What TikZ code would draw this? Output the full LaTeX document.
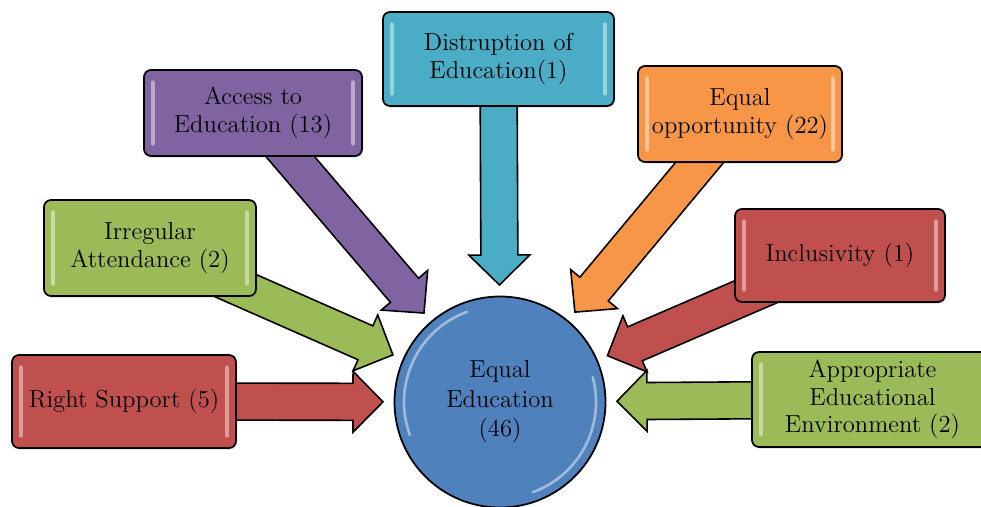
\documentclass[tikz,border=0pt]{standalone}
\usepackage{tikz}
\usetikzlibrary{calc,backgrounds,shadows}

\definecolor{boxaqua}{HTML}{4BACC6}
\definecolor{boxpurple}{HTML}{8064A2}
\definecolor{boxorange}{HTML}{F79646}
\definecolor{boxgreen}{HTML}{9BBB59}
\definecolor{boxred}{HTML}{C0504D}
\definecolor{ballblue}{HTML}{4F81BD}

\tikzset{
	box/.style={draw=black, line width=1pt, rounded corners=4pt, align=center, inner sep=0pt,
		font=\fontsize{14}{15.6}\selectfont,
		drop shadow={opacity=0.2, shadow xshift=0.8pt, shadow yshift=-1pt},
		path picture={
			\draw[white, opacity=0.45, line width=2.2pt, line cap=round]
				([xshift=5pt,yshift=-7pt]path picture bounding box.north west) -- ([xshift=5pt,yshift=7pt]path picture bounding box.south west)
				([xshift=-5pt,yshift=-7pt]path picture bounding box.north east) -- ([xshift=-5pt,yshift=7pt]path picture bounding box.south east);
		}},
	shaft/.style={draw=black, line width=0.9pt, line join=miter},
}

% block arrow from a box towards the circle
\newcommand{\blockarrow}[2]{%
	\coordinate (#1tip) at ($(equal.center)!2.34cm!(#1.center)$);
	\coordinate (#1neck) at ($(#1tip)!0.6cm!(#1.center)$);
	\draw[shaft, fill=#2] ($(#1.center)!0.37cm!90:(#1tip)$) -- ($(#1neck)!0.37cm!90:(#1tip)$)
		-- ($(#1neck)!0.61cm!90:(#1tip)$) -- (#1tip) -- ($(#1neck)!0.61cm!-90:(#1tip)$)
		-- ($(#1neck)!0.37cm!-90:(#1tip)$) -- ($(#1.center)!0.37cm!-90:(#1tip)$) -- cycle;
}

\begin{document}
\begin{tikzpicture}
	\useasboundingbox (0,0) rectangle (19.62,10.12);
	\node[box, fill=boxaqua, minimum width=4.62cm, minimum height=1.88cm] (distr) at (9.97,8.94) {Distruption of\\Education(1)};
	\node[box, fill=boxpurple, minimum width=4.36cm, minimum height=1.72cm] (access) at (5.06,7.86) {Access to\\Education (13)};
	\node[box, fill=boxorange, minimum width=4.08cm, minimum height=1.92cm] (opport) at (14.8,7.84) {Equal\\opportunity (22)};
	\node[box, fill=boxgreen, minimum width=4.24cm, minimum height=1.92cm] (irreg) at (3.0,5.16) {Irregular\\Attendance (2)};
	\node[box, fill=boxred, minimum width=4.2cm, minimum height=1.86cm] (incl) at (16.8,5.01) {Inclusivity (1)};
	\node[box, fill=boxred, minimum width=4.48cm, minimum height=1.86cm] (support) at (2.48,2.09) {Right Support (5)};
	\node[box, fill=boxgreen, minimum width=4.82cm, minimum height=1.9cm] (environ) at (17.45,2.13) {Appropriate\\Educational\\Environment (2)};
	\node[circle, draw=black, line width=1pt, fill=ballblue, minimum size=4.22cm, align=center,
		font=\fontsize{14}{16.8}\selectfont,
		path picture={
			\draw[white, opacity=0.45, line width=1.5pt, line cap=round] (path picture bounding box.center) ++(110:1.92cm) arc (110:200:1.92cm);
			\draw[white, opacity=0.45, line width=1.5pt, line cap=round] (path picture bounding box.center) ++(-70:1.92cm) arc (-70:15:1.92cm);
		}] (equal) at (10.0,2.08) {Equal\\Education\\(46)};
	\begin{scope}[on background layer]
		\blockarrow{distr}{boxaqua}
		\blockarrow{access}{boxpurple}
		\blockarrow{opport}{boxorange}
		\blockarrow{irreg}{boxgreen}
		\blockarrow{incl}{boxred}
		\blockarrow{support}{boxred}
		\blockarrow{environ}{boxgreen}
	\end{scope}
\end{tikzpicture}
\end{document}
